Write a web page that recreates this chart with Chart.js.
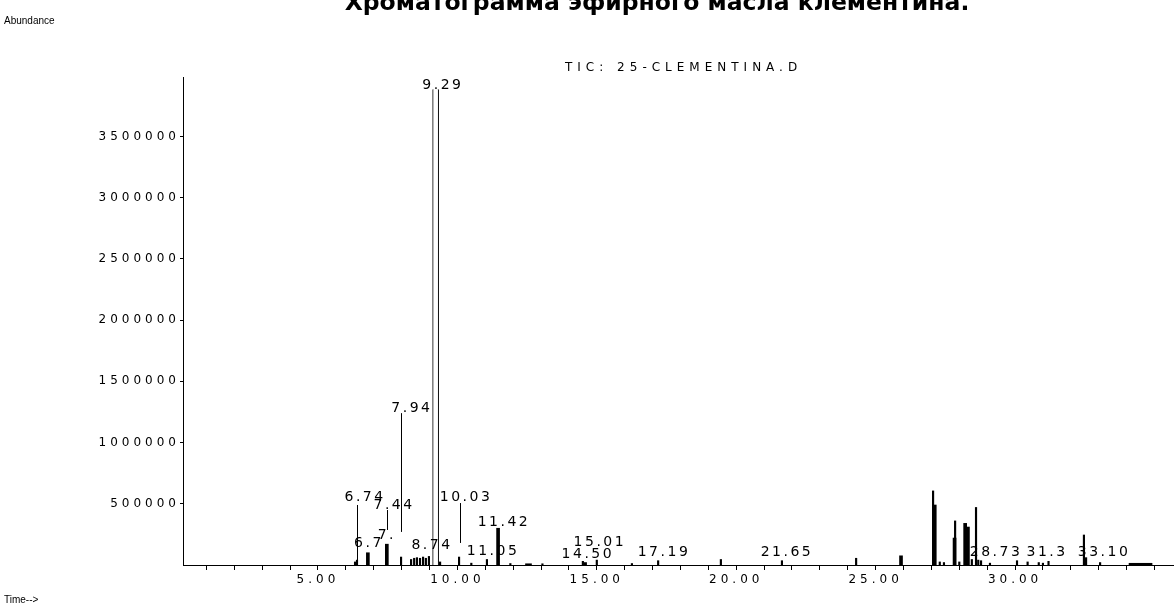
<!DOCTYPE html>
<html>
<head>
<meta charset="utf-8">
<script src="https://cdn.jsdelivr.net/npm/chart.js@4.4.0/dist/chart.umd.min.js"></script>
<style>
html, body { margin: 0; padding: 0; background: #fff; }
canvas { display: block; }
</style>
</head>
<body>
<canvas id="tic" width="1174" height="608"></canvas>
<script>
const TITLE = 'Хроматограмма эфирного масла клементина.';
const FILE_NAME = 'TIC: 25-CLEMENTINA.D';
const Y_NAME = 'Abundance';
const X_NAME = 'Time-->';

// peaks, retention time (min) vs abundance
const thinRt    = [6.33, 6.40, 7.98, 8.34, 8.45, 8.55, 8.66, 8.77, 8.87, 8.98, 9.38, 10.06, 10.50, 11.06, 11.90, 13.05, 14.50, 15.00, 16.26, 17.20, 19.45, 21.64, 24.30, 27.06, 27.30, 27.45, 27.85, 28.00, 28.45, 28.60, 28.68, 28.78, 29.10, 30.07, 30.45, 30.85, 31.00, 31.20, 32.47, 33.05];
const thinAbund = [25000, 40000, 65000, 45000, 55000, 60000, 55000, 65000, 55000, 70000, 25000, 65000, 15000, 45000, 12000, 10000, 30000, 40000, 12000, 35000, 45000, 35000, 55000, 605000, 25000, 20000, 360000, 25000, 45000, 470000, 40000, 35000, 15000, 35000, 25000, 20000, 15000, 30000, 245000, 20000];

const thickRt    = [6.79, 7.47, 11.46, 14.58, 25.91, 27.12, 27.83, 28.21, 28.31, 32.52];
const thickAbund = [100000, 170000, 300000, 20000, 75000, 490000, 220000, 340000, 310000, 60000];

const mainRt    = [9.22];
const mainAbund = [3885000];

const humpRt    = [12.55];
const humpAbund = [10000];
const plateauRt    = [34.50];
const plateauAbund = [14000];

// leader lines from displaced labels down to their peaks
const leaderRt     = [7.98, 6.40, 7.47, 10.09];
const leaderTop    = [1240000, 490000, 449000, 506000];
const leaderBottom = [270000, 40000, 286000, 180000];

const labelText  = ['9.29', '7.94', '6.74', '7.44', '10.03', '11.42', '6.7', '7.', '8.74', '11.05', '14.50', '15.01', '17.19', '21.65', '28.73', '31.3', '33.10'];
const labelRt    = [9.48, 8.37, 6.69, 7.73, 10.31, 11.67, 6.83, 7.47, 9.09, 11.28, 14.68, 15.11, 17.41, 21.82, 29.32, 31.15, 33.19];
const labelAbund = [3915000, 1280000, 555000, 490000, 555000, 351000, 180000, 245000, 163000, 114000, 90000, 188000, 106000, 106000, 106000, 106000, 106000];

const xTicks = [1, 2, 3, 4, 5, 6, 7, 8, 9, 10, 11, 12, 13, 14, 15, 16, 17, 18, 19, 20, 21, 22, 23, 24, 25, 26, 27, 28, 29, 30, 31, 32, 33, 34, 35];
const xLabelled = [5, 10, 15, 20, 25, 30];
const yTicks = [500000, 1000000, 1500000, 2000000, 2500000, 3000000, 3500000];

const SANS = "'DejaVu Sans', sans-serif";
const ARIAL = "'Liberation Sans', sans-serif";

const pts = (xs, ys) => xs.map((x, i) => ({ x, y: ys[i] }));

// the ChemStation print uses a very wide face; widen ours by spacing
const spacing = {
    id: 'spacing',
    beforeDraw: chart => { chart.ctx.letterSpacing = '4px'; },
    afterDraw: chart => { chart.ctx.letterSpacing = '0px'; }
};

const notes = {
    id: 'notes',
    afterDraw(chart) {
        const ctx = chart.ctx;
        const xs = chart.scales.x, ys = chart.scales.y;
        ctx.save();
        ctx.fillStyle = '#000';
        ctx.strokeStyle = '#000';

        ctx.letterSpacing = '0px';
        ctx.font = 'bold 23.5px ' + SANS;
        ctx.textAlign = 'center';
        ctx.textBaseline = 'alphabetic';
        ctx.fillText(TITLE, 657, 10);

        ctx.font = '10px ' + ARIAL;
        ctx.textAlign = 'left';
        ctx.textBaseline = 'middle';
        ctx.fillText(Y_NAME, 4, 21);
        ctx.fillText(X_NAME, 4, 600);

        ctx.letterSpacing = '5px';
        ctx.font = '12px ' + SANS;
        ctx.fillText(FILE_NAME, 565, 68);

        ctx.lineWidth = 1;
        leaderRt.forEach((t, i) => {
            const x = Math.round(xs.getPixelForValue(t)) + 0.5;
            ctx.beginPath();
            ctx.moveTo(x, ys.getPixelForValue(leaderTop[i]));
            ctx.lineTo(x, ys.getPixelForValue(leaderBottom[i]));
            ctx.stroke();
        });

        ctx.letterSpacing = '2.5px';
        ctx.font = '14px ' + SANS;
        ctx.textAlign = 'center';
        labelText.forEach((s, i) => {
            ctx.fillText(s, xs.getPixelForValue(labelRt[i]), ys.getPixelForValue(labelAbund[i]));
        });
        ctx.restore();
    }
};

const bar = (data, thickness, extra = {}) => ({
    data,
    grouped: false,
    barThickness: thickness,
    backgroundColor: '#000',
    borderWidth: 0,
    ...extra
});

new Chart(document.getElementById('tic'), {
    type: 'bar',
    data: {
        datasets: [
            bar(pts(humpRt, humpAbund), 6),
            bar(pts(plateauRt, plateauAbund), 23),
            bar(pts(thinRt, thinAbund), 1.5),
            bar(pts(thickRt, thickAbund), 3),
            bar(pts(mainRt, mainAbund), 6, {
                backgroundColor: '#fff',
                borderColor: '#000',
                borderWidth: { left: 1, right: 1, top: 0, bottom: 0 },
                borderSkipped: false
            })
        ]
    },
    options: {
        responsive: false,
        animation: false,
        layout: { padding: { top: 77, left: 0, right: 0, bottom: 0 } },
        plugins: { legend: { display: false }, tooltip: { enabled: false } },
        scales: {
            x: {
                type: 'linear',
                min: 0.16,
                max: 35.7,
                offset: false,
                afterFit: s => { s.height = 43; },
                afterBuildTicks: s => { s.ticks = xTicks.map(value => ({ value })); },
                grid: { display: true, drawOnChartArea: false, offset: false, color: '#000', tickLength: 5 },
                border: { display: true, color: '#000', width: 1 },
                ticks: {
                    autoSkip: false,
                    maxRotation: 0,
                    padding: 3,
                    color: '#000',
                    font: { family: SANS, size: 12 },
                    callback: v => (xLabelled.includes(v) ? v.toFixed(2) : '')
                }
            },
            y: {
                type: 'linear',
                min: 0,
                max: 3985000,
                afterFit: s => { s.width = 183; },
                afterBuildTicks: s => { s.ticks = yTicks.map(value => ({ value })); },
                grid: { display: true, drawOnChartArea: false, color: '#000', tickLength: 3 },
                border: { display: true, color: '#000', width: 1 },
                ticks: {
                    padding: 0,
                    color: '#000',
                    font: { family: SANS, size: 12 },
                    callback: v => String(v)
                }
            }
        }
    },
    plugins: [spacing, notes]
});
</script>
</body>
</html>
